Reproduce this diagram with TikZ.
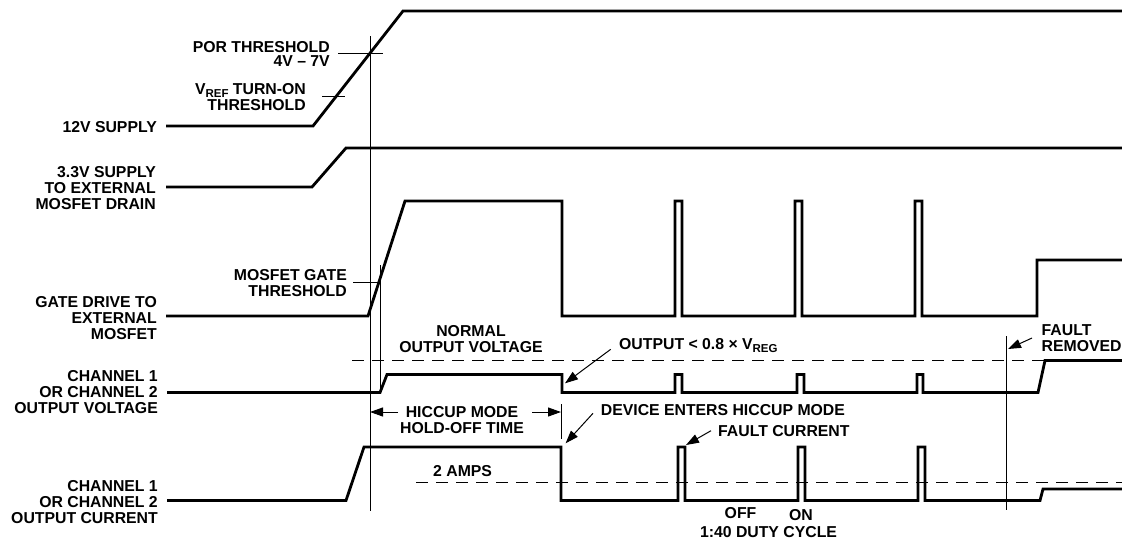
\documentclass[tikz,border=0pt]{standalone}
\usepackage{fontspec}
\setmainfont{Liberation Sans}
\usetikzlibrary{arrows.meta}
\newcommand{\subtxt}[1]{\raisebox{-0.18em}{\fontsize{11.5}{12}\selectfont #1}}
\begin{document}
\begin{tikzpicture}[x=1pt,y=-1pt,
  lbl/.style={inner sep=0pt, font=\fontsize{15.8}{16}\selectfont\bfseries},
  sig/.style={line width=2.8pt, line join=miter},
  thin/.style={line width=1pt},
  dsh/.style={line width=1pt, dash pattern=on 12pt off 8pt},
  arr/.style={line width=1pt, -{Triangle[length=13pt,width=9pt]}}]
\useasboundingbox (0,0) rectangle (1122,539);
\fill[white] (0,0) rectangle (1122,539);

% left labels (anchored at the baseline of the last line)
\node[lbl, anchor=base east] (l12) at (157,132) {12V SUPPLY};
\node[lbl, anchor=base east, align=right] (l33) at (156,209) {3.3V SUPPLY\\TO EXTERNAL\\MOSFET DRAIN};
\node[lbl, anchor=base east, align=right] (lgate) at (157,339) {GATE DRIVE TO\\EXTERNAL\\MOSFET};
\node[lbl, anchor=base east, align=right] (lvout) at (158,413) {CHANNEL 1\\OR CHANNEL 2\\OUTPUT VOLTAGE};
\node[lbl, anchor=base east, align=right] (liout) at (158,523) {CHANNEL 1\\OR CHANNEL 2\\OUTPUT CURRENT};

% waveforms
\draw[sig] (166,126) -- (313,126) -- (403,11) -- (1122,11);
\draw[sig] (166,187) -- (312,187) -- (346,148) -- (1122,148);
\draw[sig] (166,316) -- (368,316) -- (405,201) -- (562,201) -- (562,316)
  -- (675,316) -- (675,201) -- (682,201) -- (682,316)
  -- (795,316) -- (795,201) -- (802,201) -- (802,316)
  -- (915,316) -- (915,201) -- (922,201) -- (922,316)
  -- (1037,316) -- (1037,260) -- (1122,260);
\draw[sig] (167,392.5) -- (380,392.5) -- (387,374.5) -- (562,374.5) -- (562,392.5)
  -- (675,392.5) -- (675,374.5) -- (682,374.5) -- (682,392.5)
  -- (797,392.5) -- (797,374.5) -- (804,374.5) -- (804,392.5)
  -- (917,392.5) -- (917,374.5) -- (923,374.5) -- (923,392.5)
  -- (1038,392.5) -- (1045,360.5) -- (1122,360.5);
\draw[sig] (167,500.5) -- (346,500.5) -- (364,447) -- (561,447) -- (561,500.5)
  -- (678,500.5) -- (678,447) -- (685,447) -- (685,500.5)
  -- (798,500.5) -- (798,447) -- (805,447) -- (805,500.5)
  -- (918,500.5) -- (918,447) -- (925,447) -- (925,500.5)
  -- (1040,500.5) -- (1043,489) -- (1122,489);

% thin markers
\draw[thin] (370,36) -- (370,511);
\draw[thin] (380,265) -- (380,392.5);
\draw[thin] (1006,336) -- (1006,510);
\draw[thin] (561,404) -- (561,439);
\draw[thin] (338,53) -- (383,53);
\draw[thin] (322,96) -- (345,96);
\draw[thin] (353,282) -- (380,282);
\draw[dsh] (352,360.5) -- (1122,360.5);
\draw[dsh] (416,482.7) -- (1122,482.7);

% threshold labels
\node[lbl, anchor=base east, align=right] (lpor) at (330,66.7) {POR THRESHOLD\\[-2pt]4V – 7V};
\node[lbl, anchor=base east, align=right] (lvref) at (306,110.7) {V\subtxt{REF} TURN-ON\\THRESHOLD};
\node[lbl, anchor=base east, align=right] (lmg) at (347,296) {MOSFET GATE\\THRESHOLD};

% other labels
\node[lbl, anchor=base, align=center] (lnorm) at (471,352.7) {NORMAL\\OUTPUT VOLTAGE};
\node[lbl, anchor=base west] (lout) at (619,349.3) {OUTPUT < 0.8 × V\subtxt{REG}};
\node[lbl, anchor=base, align=center] (lhic) at (462,433.3) {HICCUP MODE\\HOLD-OFF TIME};
\node[lbl, anchor=base west] (ldev) at (600.7,415.7) {DEVICE ENTERS HICCUP MODE};
\node[lbl, anchor=base west] (lfc) at (718,436.7) {FAULT CURRENT};
\node[lbl, anchor=base west] (l2a) at (433,476.7) {2 AMPS};
\node[lbl, anchor=base] (loff) at (740.5,518.3) {OFF};
\node[lbl, anchor=base] (lon) at (801,520) {ON};
\node[lbl, anchor=base] (lduty) at (768.5,537.5) {1:40 DUTY CYCLE};
\node[lbl, anchor=base west, align=left] (lfr) at (1041.5,351.7) {FAULT\\REMOVED};

% arrows
\coordinate (hl0) at (398,412); \coordinate (hl1) at (370,412);
\coordinate (hr0) at (532,412); \coordinate (hr1) at (561,412);
\draw[arr] (hl0) -- (hl1);
\draw[arr] (hr0) -- (hr1);
\coordinate (ao0) at (610.7,349.3); \coordinate (ao1) at (565,383.3);
\draw[arr] (ao0) -- (ao1);
\coordinate (ad0) at (593,413.3); \coordinate (ad1) at (565.6,443.3);
\draw[arr] (ad0) -- (ad1);
\coordinate (af0) at (711,430.7); \coordinate (af1) at (686,445);
\draw[arr] (af0) -- (af1);
\coordinate (ar0) at (1032,338); \coordinate (ar1) at (1008,349);
\draw[arr] (ar0) -- (ar1);
\end{tikzpicture}
\end{document}
